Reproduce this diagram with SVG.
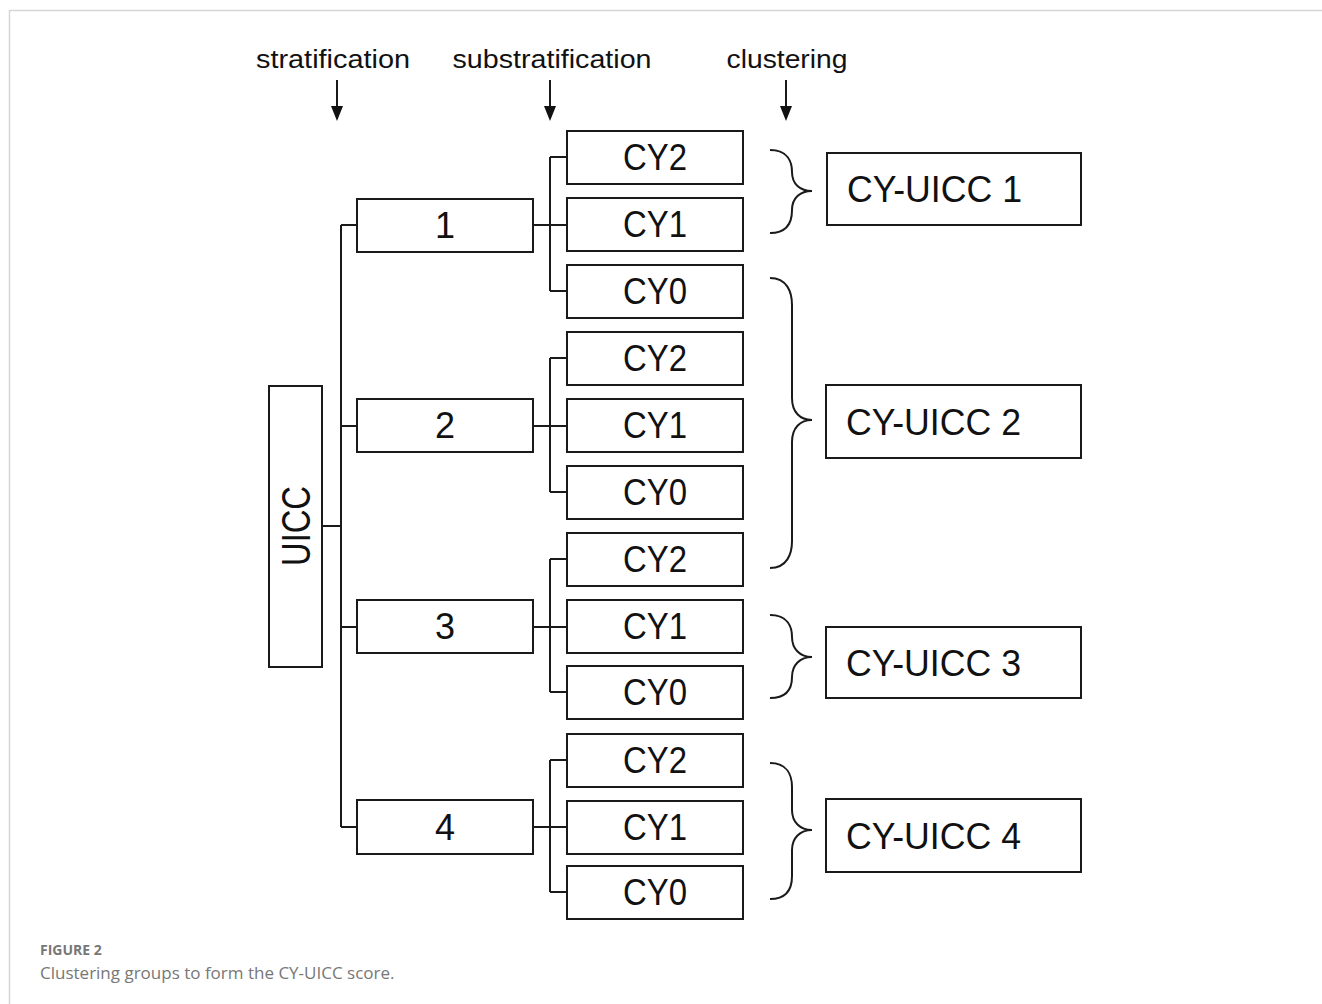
<svg xmlns="http://www.w3.org/2000/svg" width="1322" height="1004" viewBox="0 0 1322 1004">
<style>
.box{fill:#fff;stroke:#1a1a1a;stroke-width:2}
.ln{fill:none;stroke:#1a1a1a;stroke-width:2}
.br{fill:none;stroke:#1a1a1a;stroke-width:2}
.t{font-family:"Liberation Sans",Arial,sans-serif;fill:#111}
.cy{font-size:36px;text-anchor:middle}
.st{font-size:36px;text-anchor:middle}
.cu{font-size:37px}
.hd{font-size:26px;text-anchor:middle}
.cap{font-family:"Open Sans","Liberation Sans",sans-serif;fill:#777}
</style>
<rect width="1322" height="1004" fill="#fff"/>
<path d="M9.5,1004 L9.5,10.5 L1322,10.5" fill="none" stroke="#d6d6d6" stroke-width="1.5"/>

<g id="headers">
<text class="t hd" x="333" y="68" textLength="154" lengthAdjust="spacingAndGlyphs">stratification</text>
<text class="t hd" x="552" y="68" textLength="199" lengthAdjust="spacingAndGlyphs">substratification</text>
<text class="t hd" x="787" y="68" textLength="121" lengthAdjust="spacingAndGlyphs">clustering</text>
</g>

<g id="connectors">
<line class="ln" x1="337" y1="80" x2="337" y2="107"/>
<path d="M331,106 L343,106 L337,121 Z" fill="#111"/>
<line class="ln" x1="550" y1="80" x2="550" y2="107"/>
<path d="M544,106 L556,106 L550,121 Z" fill="#111"/>
<line class="ln" x1="786" y1="80" x2="786" y2="107"/>
<path d="M780,106 L792,106 L786,121 Z" fill="#111"/>

<path class="ln" d="M322,526 H341 M341,225 V827 M341,225 H357 M341,426 H357 M341,627 H357 M341,827 H357"/>
<path class="ln" d="M533,225 H567 M550,157 V291 M550,157 H567 M550,291 H567"/>
<path class="ln" d="M533,426 H567 M550,358 V492 M550,358 H567 M550,492 H567"/>
<path class="ln" d="M533,627 H567 M550,559 V692 M550,559 H567 M550,692 H567"/>
<path class="ln" d="M533,827 H567 M550,760 V892 M550,760 H567 M550,892 H567"/>

<path class="br" d="M770,150 C788,150 792,162 792,172 C792,184 800,191 812,191 C800,191 792,198 792,210 C792,221 788,233 770,233"/>
<path class="br" d="M770,278 C787,278 792,292 792,305 L792,398 C792,412 800,420 812,420 C800,420 792,428 792,442 L792,541 C792,554 787,568 770,568"/>
<path class="br" d="M770,615 C788,615 792,627 792,637 C792,649 800,657 812,657 C800,657 792,665 792,677 C792,687 788,698 770,698"/>
<path class="br" d="M770,763 C787,763 792,775 792,787 L792,810 C792,822 800,830 812,830 C800,830 792,838 792,850 L792,876 C792,888 787,899 770,899"/>
</g>

<g id="uicc">
<rect class="box" x="269" y="386" width="53" height="281"/>
<text class="t" font-size="40" text-anchor="middle" transform="translate(310,526) rotate(-90)" textLength="80" lengthAdjust="spacingAndGlyphs">UICC</text>
</g>

<g id="s1"><rect class="box" x="357" y="199" width="176" height="53"/><text class="t st" x="445" y="238">1</text></g>
<g id="s2"><rect class="box" x="357" y="399" width="176" height="53"/><text class="t st" x="445" y="438">2</text></g>
<g id="s3"><rect class="box" x="357" y="600" width="176" height="53"/><text class="t st" x="445" y="639">3</text></g>
<g id="s4"><rect class="box" x="357" y="800" width="176" height="54"/><text class="t st" x="445" y="840">4</text></g>

<g id="s1-cy2"><rect class="box" x="567" y="131" width="176" height="53"/><text class="t cy" x="655" y="170" textLength="64" lengthAdjust="spacingAndGlyphs">CY2</text></g>
<g id="s1-cy1"><rect class="box" x="567" y="198" width="176" height="53"/><text class="t cy" x="655" y="237" textLength="64" lengthAdjust="spacingAndGlyphs">CY1</text></g>
<g id="s1-cy0"><rect class="box" x="567" y="265" width="176" height="53"/><text class="t cy" x="655" y="304" textLength="64" lengthAdjust="spacingAndGlyphs">CY0</text></g>
<g id="s2-cy2"><rect class="box" x="567" y="332" width="176" height="53"/><text class="t cy" x="655" y="371" textLength="64" lengthAdjust="spacingAndGlyphs">CY2</text></g>
<g id="s2-cy1"><rect class="box" x="567" y="399" width="176" height="53"/><text class="t cy" x="655" y="438" textLength="64" lengthAdjust="spacingAndGlyphs">CY1</text></g>
<g id="s2-cy0"><rect class="box" x="567" y="466" width="176" height="53"/><text class="t cy" x="655" y="505" textLength="64" lengthAdjust="spacingAndGlyphs">CY0</text></g>
<g id="s3-cy2"><rect class="box" x="567" y="533" width="176" height="53"/><text class="t cy" x="655" y="572" textLength="64" lengthAdjust="spacingAndGlyphs">CY2</text></g>
<g id="s3-cy1"><rect class="box" x="567" y="600" width="176" height="53"/><text class="t cy" x="655" y="639" textLength="64" lengthAdjust="spacingAndGlyphs">CY1</text></g>
<g id="s3-cy0"><rect class="box" x="567" y="666" width="176" height="53"/><text class="t cy" x="655" y="705" textLength="64" lengthAdjust="spacingAndGlyphs">CY0</text></g>
<g id="s4-cy2"><rect class="box" x="567" y="734" width="176" height="53"/><text class="t cy" x="655" y="773" textLength="64" lengthAdjust="spacingAndGlyphs">CY2</text></g>
<g id="s4-cy1"><rect class="box" x="567" y="801" width="176" height="53"/><text class="t cy" x="655" y="840" textLength="64" lengthAdjust="spacingAndGlyphs">CY1</text></g>
<g id="s4-cy0"><rect class="box" x="567" y="866" width="176" height="53"/><text class="t cy" x="655" y="905" textLength="64" lengthAdjust="spacingAndGlyphs">CY0</text></g>

<g id="cyuicc1"><rect class="box" x="827" y="153" width="254" height="72"/><text class="t cu" x="847" y="202" textLength="175" lengthAdjust="spacingAndGlyphs">CY-UICC 1</text></g>
<g id="cyuicc2"><rect class="box" x="826" y="385" width="255" height="73"/><text class="t cu" x="846" y="435" textLength="175" lengthAdjust="spacingAndGlyphs">CY-UICC 2</text></g>
<g id="cyuicc3"><rect class="box" x="826" y="627" width="255" height="71"/><text class="t cu" x="846" y="676" textLength="175" lengthAdjust="spacingAndGlyphs">CY-UICC 3</text></g>
<g id="cyuicc4"><rect class="box" x="826" y="799" width="255" height="73"/><text class="t cu" x="846" y="849" textLength="175" lengthAdjust="spacingAndGlyphs">CY-UICC 4</text></g>

<g id="caption">
<text class="cap" x="40" y="955" font-size="14" font-weight="bold" fill="#808080">FIGURE 2</text>
<text class="cap" x="40" y="979" font-size="17">Clustering groups to form the CY-UICC score.</text>
</g>
</svg>
